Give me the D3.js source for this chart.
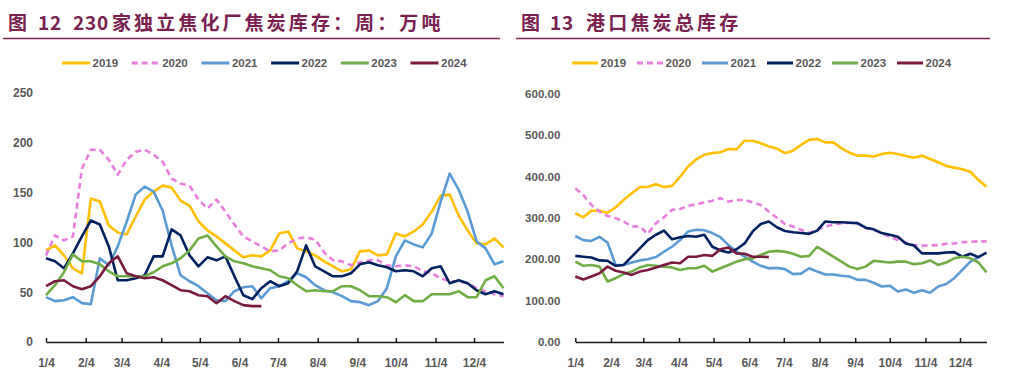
<!DOCTYPE html>
<html>
<head>
<meta charset="utf-8">
<script src="https://cdn.jsdelivr.net/npm/d3@7"></script>
<style>
  html, body { margin: 0; padding: 0; background: #ffffff; }
  svg { display: block; }
</style>
</head>
<body>
<div id="chart"></div>
<script>
// ---------- DATA ----------
const years = ["2019", "2020", "2021", "2022", "2023", "2024"];
const tickLabels = ["1/4","2/4","3/4","4/4","5/4","6/4","7/4","8/4","9/4","10/4","11/4","12/4"];

// 图12: 230家独立焦化厂焦炭库存（万吨），每周
const coke19 = [92,97,87,74,69,144,141,117,110,108,126,143,151,157,155,142,137,121,112,106,99,92,85,87,86,92,109,111,94,91,87,81,76,71,73,91,92,87,88,109,106,111,118,131,147,148,127,112,99,98,104,95];
const coke20 = [87,107,102,106,174,193,193,183,168,183,191,193,188,181,164,159,157,143,134,143,131,118,106,101,96,91,92,99,104,105,103,90,82,81,77,80,82,82,77,76,77,76,71,69,64,61,61,59,54,51,48,46];
const coke21 = [45,41,42,45,39,38,84,77,96,121,148,156,151,132,97,67,61,56,49,42,41,51,55,56,44,54,56,61,69,65,57,52,50,46,41,40,37,41,54,86,102,98,95,109,141,169,153,131,101,94,78,81];
const coke22 = [84,81,74,89,106,122,118,96,62,62,64,67,86,86,113,107,87,76,85,82,86,66,47,43,54,61,56,59,71,97,76,71,66,66,69,78,80,77,75,71,72,71,66,74,76,59,62,59,52,48,51,48];
const coke23 = [47,57,70,88,81,81,78,71,66,66,66,66,70,76,79,84,92,104,107,96,86,81,79,76,74,72,66,64,57,51,52,51,51,56,56,52,46,46,45,40,47,41,41,48,48,48,51,45,45,62,66,54];
const coke24 = [56,61,62,56,53,56,66,79,86,69,66,64,65,62,57,52,51,47,46,39,46,41,37,36,36];

// 图13: 港口焦炭总库存，每周
const port19 = [311,301,317,317,312,325,343,359,374,375,381,374,377,399,424,441,452,456,458,466,465,486,486,480,472,467,456,462,476,488,490,482,482,468,457,450,450,448,454,457,454,449,445,450,442,434,425,421,417,411,391,375];
const port20 = [371,355,331,315,304,299,291,279,279,261,287,301,319,321,329,333,337,341,347,339,343,343,337,331,315,300,285,279,271,263,271,279,283,287,288,287,275,271,263,254,246,240,234,233,233,234,237,238,241,242,243,243];
const port21 = [256,246,244,254,240,186,186,192,197,200,205,218,230,246,267,271,270,263,253,234,218,206,194,184,178,179,176,164,165,178,170,163,163,160,158,150,150,143,134,136,122,127,119,125,119,134,140,154,174,194,205];
const port22 = [208,206,204,197,196,184,186,206,226,246,259,269,248,253,256,254,259,230,221,216,224,238,267,285,291,277,268,265,263,261,269,291,289,289,288,287,276,272,263,259,254,238,233,214,214,214,216,217,206,213,205,216];
const port23 = [194,184,186,182,146,154,164,170,180,186,184,182,180,174,178,178,184,170,178,186,194,200,202,210,218,220,218,213,206,208,230,218,206,194,182,176,182,196,194,192,194,194,188,190,197,186,192,202,206,202,192,168];
const port24 = [158,151,158,166,182,172,168,162,170,174,180,186,192,190,206,206,210,208,224,228,214,213,206,206,205];

const leftTicks = [0, 50, 100, 150, 200, 250];
const rightTicks = [0, 100, 200, 300, 400, 500, 600];

const leftTitleParts = ["图", "12", "230", "家独立焦化厂焦炭库存：周：万吨"];
const rightTitleParts = ["图", "13", "港口焦炭总库存"];

// ---------- STYLE ----------
const colors = ["#FFC000", "#E97EDD", "#5B9BD5", "#002060", "#70AD47", "#7A1A40"];
const dashes = [null, "6,4", null, null, null, null];
const titleColor = "#7A2150";
const textColor = "#595959";
const numFont = "'Liberation Sans', Arial, sans-serif";
const cjkFont = "'Noto Sans CJK SC', 'Noto Sans CJK JP', sans-serif";

const W = 1014, H = 379;
const svg = d3.select("#chart").append("svg")
  .attr("width", W).attr("height", H)
  .attr("viewBox", `0 0 ${W} ${H}`);
svg.append("rect").attr("width", W).attr("height", H).attr("fill", "#fff");

const weekStart = new Date(2019, 0, 4);
const weekDates = d3.range(52).map(i => d3.timeDay.offset(weekStart, 7 * i));
const monthTicks = d3.range(12).map(m => new Date(2019, m, 4));

function drawChart(cfg) {
  const g = svg.append("g");

  // title: each part placed explicitly; the CJK run is laid out glyph by glyph
  const tg = g.append("g")
    .attr("font-family", cjkFont)
    .attr("font-weight", 700)
    .attr("font-size", 19)
    .attr("fill", titleColor);
  const last = cfg.titleParts.length - 1;
  cfg.titleParts.forEach((p, i) => {
    if (i === last) {
      Array.from(p).forEach((ch, j) => {
        tg.append("text")
          .attr("x", cfg.titleXs[i] + j * cfg.titlePitch)
          .attr("y", 30)
          .text(ch);
      });
    } else {
      tg.append("text")
        .attr("x", cfg.titleXs[i]).attr("y", 30)
        .attr("letter-spacing", i === 0 ? 0 : 0.8)
        .text(p);
    }
  });
  g.append("line")
    .attr("x1", cfg.ruleX1).attr("x2", cfg.ruleX2)
    .attr("y1", 38.5).attr("y2", 38.5)
    .attr("stroke", titleColor).attr("stroke-width", 1.5);

  const x = d3.scaleTime()
    .domain([weekStart, weekDates[51]])
    .range(cfg.xRange);
  const y = d3.scaleLinear()
    .domain([0, d3.max(cfg.yTicks)])
    .range(cfg.yRange);

  // y axis (labels only)
  const ya = g.append("g")
    .attr("transform", `translate(${cfg.xRange[0]},0)`)
    .call(d3.axisLeft(y).tickValues(cfg.yTicks).tickSize(0).tickPadding(cfg.yPad).tickFormat(cfg.yFormat));
  ya.select(".domain").remove();
  ya.selectAll("text")
    .attr("font-family", numFont).attr("font-weight", 700)
    .attr("font-size", cfg.yFont).attr("fill", textColor);

  // x axis
  const xa = g.append("g")
    .attr("transform", `translate(0,${cfg.yRange[0]})`)
    .call(d3.axisBottom(x).tickValues(monthTicks).tickSizeInner(-4).tickSizeOuter(0)
      .tickPadding(16).tickFormat((d, i) => tickLabels[i]));
  xa.select(".domain").attr("stroke", "#1a1a1a").attr("stroke-width", 1.5);
  xa.selectAll(".tick line").attr("stroke", "#1a1a1a").attr("stroke-width", 1.5);
  xa.selectAll("text")
    .attr("font-family", numFont).attr("font-weight", 700)
    .attr("font-size", 12).attr("fill", textColor);

  // lines
  const line = d3.line()
    .x((d, i) => x(weekDates[i]))
    .y(d => y(d));
  cfg.series.forEach((s, k) => {
    g.append("path")
      .datum(s)
      .attr("d", line)
      .attr("fill", "none")
      .attr("stroke", colors[k])
      .attr("stroke-width", 2.6)
      .attr("stroke-linejoin", "round")
      .attr("stroke-dasharray", dashes[k]);
  });

  // legend
  years.forEach((yr, k) => {
    const lx = cfg.legX + k * cfg.legStep;
    g.append("line")
      .attr("x1", lx).attr("x2", lx + cfg.legLine)
      .attr("y1", 63).attr("y2", 63)
      .attr("stroke", colors[k]).attr("stroke-width", 3)
      .attr("stroke-dasharray", dashes[k]);
    g.append("text")
      .attr("x", lx + cfg.legLine + 2.5).attr("y", 67)
      .attr("font-family", numFont).attr("font-weight", 700)
      .attr("font-size", 11.5).attr("fill", textColor)
      .text(yr);
  });
}

drawChart({
  titleParts: leftTitleParts, titleXs: [8, 38, 73, 112], titlePitch: 22.1,
  ruleX1: 3, ruleX2: 500,
  xRange: [46, 503.5], yRange: [342, 93], yTicks: leftTicks,
  yFormat: d3.format("d"), yPad: 13, yFont: 12,
  series: [coke19, coke20, coke21, coke22, coke23, coke24],
  legX: 62, legStep: 69.7, legLine: 28
});

drawChart({
  titleParts: rightTitleParts, titleXs: [521, 550, 586], titlePitch: 22.2,
  ruleX1: 516, ruleX2: 990,
  xRange: [575.3, 986.5], yRange: [342, 93.5], yTicks: rightTicks,
  yFormat: d3.format(".2f"), yPad: 15, yFont: 11.5,
  series: [port19, port20, port21, port22, port23, port24],
  legX: 572, legStep: 65, legLine: 26
});
</script>
</body>
</html>
